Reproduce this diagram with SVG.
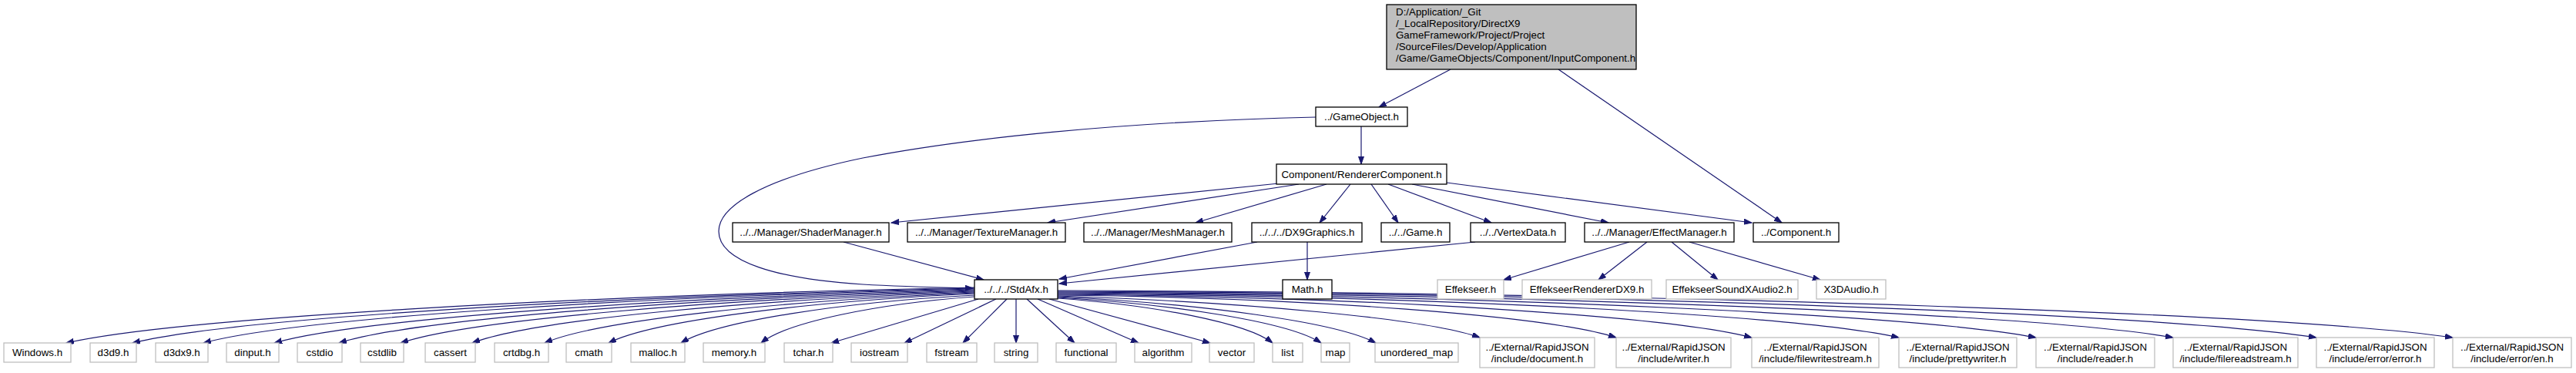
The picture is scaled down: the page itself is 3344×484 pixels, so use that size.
<svg xmlns="http://www.w3.org/2000/svg" width="3344" height="484" viewBox="0 0 3344 484">
<style>
text{font-family:"Liberation Sans",Arial,Helvetica,sans-serif;font-size:13.33px;fill:#000;text-anchor:middle}
.top rect{fill:#bfbfbf;stroke:#000;stroke-width:1.3}
.top text{text-anchor:start}
.n rect{fill:#fff;stroke:#000;stroke-width:1.3}
.g rect{fill:#fff;stroke:#bfbfbf;stroke-width:1.3}
#edges path{fill:none;stroke:#191970;stroke-width:1.2;marker-end:url(#a)}
</style>
<defs>
<marker id="a" markerUnits="userSpaceOnUse" markerWidth="12" markerHeight="9" refX="10" refY="3.5" orient="auto">
<path d="M0,0 L10,3.5 L0,7 z" fill="#191970" stroke="#191970" stroke-width="1"/>
</marker>
</defs>
<rect width="3344" height="484" fill="#fff"/>
<g id="edges">
<path d="M1883,90 L1790,139"/>
<path d="M2023,90 L2313,289"/>
<path d="M1767,164 L1767,213"/>
<path d="M1708,152 C1450,158 1250,180 1120,205 C990,232 933,268 933,300 C933,340 1010,362 1120,369 C1170,372 1220,373 1263,374"/>
<path d="M1660,238 L1157,289"/>
<path d="M1686,239 L1360,289"/>
<path d="M1722,239 L1552,289"/>
<path d="M1753,239 L1713,289"/>
<path d="M1780,239 L1815,289"/>
<path d="M1802,239 L1936,289"/>
<path d="M1833,239 L2088,289"/>
<path d="M1878,237 L2274,289"/>
<path d="M1095,314 L1277,363"/>
<path d="M1632,314 L1375,362"/>
<path d="M1697,314 L1697,363"/>
<path d="M1915,314 L1375,368"/>
<path d="M2115,314 L1952,363"/>
<path d="M2138,314 L2075,363"/>
<path d="M2170,314 L2230,363"/>
<path d="M2193,314 L2363,363"/>
<path d="M1265,373 C734,384 228,413 86,445"/>
<path d="M1265,374 C773,385 303,413 172,445"/>
<path d="M1265,375 C815,385 384,413 264,445"/>
<path d="M1265,376 C856,386 465,414 356,445"/>
<path d="M1265,377 C894,387 539,414 440,445"/>
<path d="M1265,378 C930,388 609,415 520,445"/>
<path d="M1265,379 C972,389 691,415 613,445"/>
<path d="M1265,380 C1014,390 774,416 707,445"/>
<path d="M1265,381 C1051,391 847,416 790,445"/>
<path d="M1265,383 C1094,392 930,417 884,445"/>
<path d="M1265,385 C1140,394 1021,418 988,445"/>
<path d="M1270,388 L1079,445"/>
<path d="M1293,388 L1174,445"/>
<path d="M1307,388 L1250,445"/>
<path d="M1319,388 L1319,445"/>
<path d="M1333,388 L1395,445"/>
<path d="M1347,388 L1478,445"/>
<path d="M1362,388 L1571,445"/>
<path d="M1373,387 C1499,396 1619,419 1652,445"/>
<path d="M1373,386 C1527,395 1674,418 1715,445"/>
<path d="M1373,385 C1559,394 1736,418 1786,445"/>
<path d="M1373,384 C1620,392 1855,414 1921,438"/>
<path d="M1373,383 C1699,386 2011,410 2098,438"/>
<path d="M1373,382 C1778,385 2166,410 2274,438"/>
<path d="M1373,381 C1864,384 2334,409 2465,438"/>
<path d="M1373,380 C1945,383 2491,409 2643,438"/>
<path d="M1373,379 C2025,382 2647,408 2821,438"/>
<path d="M1373,378 C2108,381 2811,408 3007,438"/>
<path d="M1373,377 C2188,380 2967,407 3184,438"/>
</g>
<g id="node_input" class="top"><rect x="1800" y="6" width="324" height="84"/>
<text x="1812" y="20">D:/Application/_Git</text>
<text x="1812" y="35">/_LocalRepository/DirectX9</text>
<text x="1812" y="50">GameFramework/Project/Project</text>
<text x="1812" y="65">/SourceFiles/Develop/Application</text>
<text x="1812" y="80">/Game/GameObjects/Component/InputComponent.h</text></g>
<g id="node_gameobject" class="n"><rect x="1708" y="139" width="119" height="25"/><text x="1767.5" y="156">../GameObject.h</text></g>
<g id="node_renderer" class="n"><rect x="1657" y="213" width="221" height="26"/><text x="1767.5" y="231">Component/RendererComponent.h</text></g>
<g id="node_shader" class="n"><rect x="951" y="289" width="203" height="25"/><text x="1052.5" y="306">../../Manager/ShaderManager.h</text></g>
<g id="node_texture" class="n"><rect x="1178" y="289" width="205" height="25"/><text x="1280.5" y="306">../../Manager/TextureManager.h</text></g>
<g id="node_mesh" class="n"><rect x="1407" y="289" width="192" height="25"/><text x="1503" y="306">../../Manager/MeshManager.h</text></g>
<g id="node_dx9" class="n"><rect x="1625" y="289" width="143" height="25"/><text x="1696.5" y="306">../../../DX9Graphics.h</text></g>
<g id="node_game" class="n"><rect x="1793" y="289" width="89" height="25"/><text x="1837.5" y="306">../../Game.h</text></g>
<g id="node_vertex" class="n"><rect x="1909" y="289" width="123" height="25"/><text x="1970.5" y="306">../../VertexData.h</text></g>
<g id="node_effectmgr" class="n"><rect x="2057" y="289" width="194" height="25"/><text x="2154" y="306">../../Manager/EffectManager.h</text></g>
<g id="node_component" class="n"><rect x="2276" y="289" width="111" height="25"/><text x="2331.5" y="306">../Component.h</text></g>
<g id="node_stdafx" class="n"><rect x="1265" y="363" width="108" height="25"/><text x="1319" y="380">../../../StdAfx.h</text></g>
<g id="node_math" class="n"><rect x="1665" y="363" width="64" height="25"/><text x="1697" y="380">Math.h</text></g>
<g id="node_effekseer" class="g"><rect x="1866" y="363" width="86" height="25"/><text x="1909" y="380">Effekseer.h</text></g>
<g id="node_effrdx9" class="g"><rect x="1976" y="363" width="168" height="25"/><text x="2060" y="380">EffekseerRendererDX9.h</text></g>
<g id="node_effsound" class="g"><rect x="2163" y="363" width="171" height="25"/><text x="2248.5" y="380">EffekseerSoundXAudio2.h</text></g>
<g id="node_x3daudio" class="g"><rect x="2358" y="363" width="90" height="25"/><text x="2403" y="380">X3DAudio.h</text></g>
<g id="node_windows" class="g"><rect x="5" y="445" width="87" height="25"/><text x="48.5" y="462">Windows.h</text></g>
<g id="node_d3d9" class="g"><rect x="117" y="445" width="60" height="25"/><text x="147" y="462">d3d9.h</text></g>
<g id="node_d3dx9" class="g"><rect x="202" y="445" width="68" height="25"/><text x="236" y="462">d3dx9.h</text></g>
<g id="node_dinput" class="g"><rect x="294" y="445" width="68" height="25"/><text x="328" y="462">dinput.h</text></g>
<g id="node_cstdio" class="g"><rect x="386" y="445" width="58" height="25"/><text x="415" y="462">cstdio</text></g>
<g id="node_cstdlib" class="g"><rect x="468" y="445" width="56" height="25"/><text x="496" y="462">cstdlib</text></g>
<g id="node_cassert" class="g"><rect x="552" y="445" width="65" height="25"/><text x="584.5" y="462">cassert</text></g>
<g id="node_crtdbg" class="g"><rect x="642" y="445" width="70" height="25"/><text x="677" y="462">crtdbg.h</text></g>
<g id="node_cmath" class="g"><rect x="735" y="445" width="59" height="25"/><text x="764.5" y="462">cmath</text></g>
<g id="node_malloc" class="g"><rect x="819" y="445" width="70" height="25"/><text x="854" y="462">malloc.h</text></g>
<g id="node_memory" class="g"><rect x="913" y="445" width="80" height="25"/><text x="953" y="462">memory.h</text></g>
<g id="node_tchar" class="g"><rect x="1018" y="445" width="63" height="25"/><text x="1049.5" y="462">tchar.h</text></g>
<g id="node_iostream" class="g"><rect x="1105" y="445" width="73" height="25"/><text x="1141.5" y="462">iostream</text></g>
<g id="node_fstream" class="g"><rect x="1203" y="445" width="65" height="25"/><text x="1235.5" y="462">fstream</text></g>
<g id="node_string" class="g"><rect x="1291" y="445" width="56" height="25"/><text x="1319" y="462">string</text></g>
<g id="node_functional" class="g"><rect x="1371" y="445" width="78" height="25"/><text x="1410" y="462">functional</text></g>
<g id="node_algorithm" class="g"><rect x="1473" y="445" width="74" height="25"/><text x="1510" y="462">algorithm</text></g>
<g id="node_vector" class="g"><rect x="1570" y="445" width="58" height="25"/><text x="1599" y="462">vector</text></g>
<g id="node_list" class="g"><rect x="1652" y="445" width="39" height="25"/><text x="1671.5" y="462">list</text></g>
<g id="node_map" class="g"><rect x="1715" y="445" width="37" height="25"/><text x="1733.5" y="462">map</text></g>
<g id="node_umap" class="g"><rect x="1785" y="445" width="108" height="25"/><text x="1839" y="462">unordered_map</text></g>
<g id="node_document" class="g"><rect x="1921" y="438" width="149" height="39"/><text x="1995.5" y="454.5">../External/RapidJSON</text><text x="1995.5" y="469.5">/include/document.h</text></g>
<g id="node_writer" class="g"><rect x="2098" y="438" width="149" height="39"/><text x="2172.5" y="454.5">../External/RapidJSON</text><text x="2172.5" y="469.5">/include/writer.h</text></g>
<g id="node_fwstream" class="g"><rect x="2274" y="438" width="165" height="39"/><text x="2356.5" y="454.5">../External/RapidJSON</text><text x="2356.5" y="469.5">/include/filewritestream.h</text></g>
<g id="node_pretty" class="g"><rect x="2465" y="438" width="153" height="39"/><text x="2541.5" y="454.5">../External/RapidJSON</text><text x="2541.5" y="469.5">/include/prettywriter.h</text></g>
<g id="node_reader" class="g"><rect x="2643" y="438" width="154" height="39"/><text x="2720" y="454.5">../External/RapidJSON</text><text x="2720" y="469.5">/include/reader.h</text></g>
<g id="node_frstream" class="g"><rect x="2821" y="438" width="162" height="39"/><text x="2902" y="454.5">../External/RapidJSON</text><text x="2902" y="469.5">/include/filereadstream.h</text></g>
<g id="node_error" class="g"><rect x="3007" y="438" width="153" height="39"/><text x="3083.5" y="454.5">../External/RapidJSON</text><text x="3083.5" y="469.5">/include/error/error.h</text></g>
<g id="node_en" class="g"><rect x="3184" y="438" width="154" height="39"/><text x="3261" y="454.5">../External/RapidJSON</text><text x="3261" y="469.5">/include/error/en.h</text></g>
</svg>
